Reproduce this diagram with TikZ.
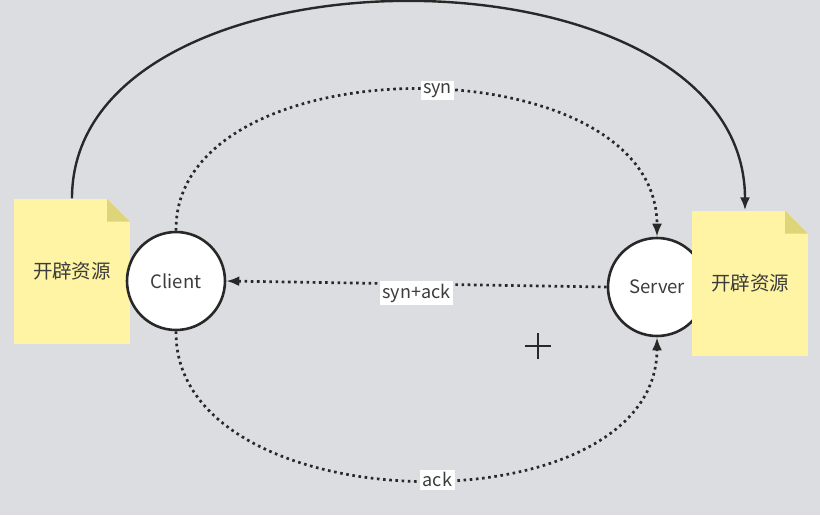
\documentclass[tikz,border=0pt]{standalone}
\usepackage{fontspec}
\setmainfont{Noto Sans CJK SC}
\usetikzlibrary{arrows.meta}
\definecolor{bgcol}{RGB}{220,221,225}
\definecolor{notecol}{RGB}{255,244,163}
\definecolor{foldcol}{RGB}{222,212,122}
\definecolor{inkcol}{RGB}{40,40,40}
\definecolor{txtcol}{RGB}{60,60,60}
\begin{document}
\begin{tikzpicture}[x=1pt,y=-1pt,
  notebox/.style={minimum width=116pt,minimum height=145pt,inner sep=0pt,fill=notecol,
    font=\fontsize{19.5}{22}\selectfont,text=txtcol,
    path picture={
      \fill[foldcol] ([xshift=-23pt]path picture bounding box.north east) --
        ([yshift=-23pt]path picture bounding box.north east) --
        ([xshift=-23pt,yshift=-23pt]path picture bounding box.north east) -- cycle;
      \fill[bgcol] ([xshift=-23pt]path picture bounding box.north east) --
        (path picture bounding box.north east) --
        ([yshift=-23pt]path picture bounding box.north east) -- cycle;}},
  peer/.style={circle,draw=inkcol,line width=2.6pt,fill=white,minimum size=98pt,inner sep=0pt,
    font=\fontsize{18.5}{21}\selectfont,text=txtcol},
  dotline/.style={draw=inkcol,line width=2.7pt,dash pattern=on 2.6pt off 3.6pt,
    -{Latex[length=13pt,width=10pt]}},
  solidline/.style={draw=inkcol,line width=2.4pt,-{Latex[length=13pt,width=10pt]}},
  msg/.style={fill=white,inner sep=2.5pt,font=\fontsize{18}{20}\selectfont,text=txtcol}
]
\fill[bgcol] (0,0) rectangle (820,515);
\useasboundingbox (0,0) rectangle (820,515);

\node[notebox] (resL) at (72,271) {开辟资源};
\node[peer] (client) at (176,281) {Client};
\node[peer] (server) at (657,287) {Server};
\node[notebox] (resR) at (750,283) {开辟资源};

\draw[solidline] (resL.north) .. controls (72,-65) and (745,-65) .. (resR.north -| 745,0);

\draw[dotline] (client.north) .. controls (174,42) and (657,42) .. node[msg,pos=0.53] {syn} (server.north);
\draw[dotline] (server.west) -- node[msg,yshift=-9pt] {syn+ack} (client.east);
\draw[dotline] (client.south) .. controls (174,525) and (657,532) .. node[msg,pos=0.53] {ack} (server.south);

\coordinate (cur) at (538,346);
\draw[inkcol,line width=2.2pt] ([xshift=-13pt]cur) -- ([xshift=13pt]cur);
\draw[inkcol,line width=2.2pt] ([yshift=-13pt]cur) -- ([yshift=13pt]cur);
\end{tikzpicture}
\end{document}
